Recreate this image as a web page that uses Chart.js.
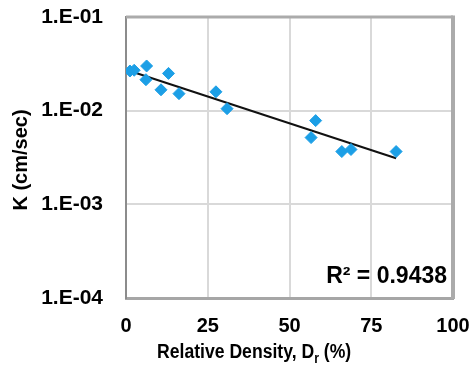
<!DOCTYPE html>
<html>
<head>
    <title>K vs relative density</title>
    <script src="https://cdn.jsdelivr.net/npm/chart.js@4.4.0/dist/chart.umd.min.js"></script>
    <style>
    body { margin: 0; background: #fff; }
    #box { width: 470px; height: 370px; }
    </style>
</head>
<body>
  <div id="box"><canvas id="myCanvas" width="470" height="370"></canvas></div>
  <script>
  // relative density (%) and permeability K (cm/sec)
  var densityRel = [1.2, 2.5, 6.3, 6.1, 10.7, 13, 16.2, 27.5, 30.9, 56.6, 58, 66, 68.8, 82.6];
  var kValues = [0.0265, 0.027, 0.030, 0.0214, 0.0167, 0.025, 0.0152, 0.0159, 0.0105, 0.00516, 0.00783, 0.00366, 0.00385, 0.00366];

  // exponential trendline end points
  var trendX = [1.2, 82.6];
  var trendK = [0.0265, 0.0031];

  var yTicks = [0.1, 0.01, 0.001, 0.0001];
  var xTicks = [0, 25, 50, 75, 100];
  var rSquared = '0.9438';

  var FONT = '"Liberation Sans", Arial, sans-serif';

  var pts = densityRel.map(function(d, i) { return {x: d, y: kValues[i]}; });
  var trend = trendX.map(function(d, i) { return {x: d, y: trendK[i]}; });

  // grey frame on top and right of the plot area
  var plotFrame = {
    id: 'plotFrame',
    beforeDatasetsDraw: function(chart) {
      var ctx = chart.ctx, a = chart.chartArea;
      ctx.save();
      ctx.strokeStyle = '#ababab';
      ctx.lineWidth = 3;
      ctx.beginPath();
      ctx.moveTo(a.left, a.top);
      ctx.lineTo(a.right, a.top);
      ctx.stroke();
      ctx.lineWidth = 4;
      ctx.beginPath();
      ctx.moveTo(a.right, a.top - 1.5);
      ctx.lineTo(a.right, a.bottom + 1);
      ctx.stroke();
      ctx.restore();
    }
  };

  var extraText = {
    id: 'extraText',
    afterDraw: function(chart) {
      var ctx = chart.ctx;
      ctx.save();
      ctx.fillStyle = '#000';
      // y title
      ctx.save();
      ctx.font = 'bold 20px ' + FONT;
      ctx.translate(21, 160);
      ctx.rotate(-Math.PI / 2);
      ctx.textAlign = 'center';
      ctx.textBaseline = 'middle';
      ctx.fillText('K (cm/sec)', 0, 0);
      ctx.restore();
      // x title with subscript, squeezed a little
      var p1 = 'Relative Density, D', sub = 'r', p2 = ' (%)';
      ctx.font = 'bold 20px ' + FONT;
      var w1 = ctx.measureText(p1).width;
      ctx.font = 'bold 14px ' + FONT;
      var w2 = ctx.measureText(sub).width;
      ctx.save();
      ctx.translate(157, 358);
      ctx.scale(0.88, 1);
      ctx.textBaseline = 'alphabetic';
      ctx.textAlign = 'left';
      ctx.font = 'bold 20px ' + FONT;
      ctx.fillText(p1, 0, 0);
      ctx.font = 'bold 14px ' + FONT;
      ctx.fillText(sub, w1, 5);
      ctx.font = 'bold 20px ' + FONT;
      ctx.fillText(p2, w1 + w2, 0);
      ctx.restore();
      // R squared
      ctx.font = 'bold 23px ' + FONT;
      ctx.textAlign = 'right';
      ctx.textBaseline = 'alphabetic';
      ctx.fillText('R\u00B2 = ' + rSquared, 447, 283);
      ctx.restore();
    }
  };

  new Chart(document.getElementById('myCanvas'), {
    type: 'scatter',
    data: {
      datasets: [{
        label: 'Data',
        data: pts,
        pointStyle: 'rectRot',
        pointRadius: 6,
        backgroundColor: '#1c9fe6',
        borderColor: '#1c9fe6',
        borderWidth: 1,
        order: 1
      }, {
        label: 'Trend',
        type: 'line',
        data: trend,
        borderColor: '#111',
        borderWidth: 2,
        pointRadius: 0,
        showLine: true,
        fill: false,
        order: 2
      }]
    },
    options: {
      responsive: false,
      animation: false,
      layout: { padding: { left: 0, right: 17, top: 17, bottom: 0 } },
      plugins: { legend: { display: false }, tooltip: { enabled: false } },
      scales: {
        x: {
          type: 'linear',
          min: 0, max: 100,
          afterBuildTicks: function(s) { s.ticks = xTicks.map(function(v) { return {value: v}; }); },
          afterFit: function(s) { s.height = 72; s.paddingLeft = 0; s.paddingRight = 0; },
          grid: { color: '#d9d9d9', lineWidth: 2, drawTicks: false },
          border: { color: '#a6a6a6', width: 3 },
          ticks: { padding: 16, color: '#000', font: { family: FONT, size: 20, weight: 'bold' } }
        },
        y: {
          type: 'logarithmic',
          min: 0.0001, max: 0.1,
          afterBuildTicks: function(s) { s.ticks = yTicks.map(function(v) { return {value: v}; }); },
          afterFit: function(s) { s.width = 126; s.paddingTop = 0; s.paddingBottom = 0; },
          grid: { color: '#d9d9d9', lineWidth: 2, drawTicks: false },
          border: { color: '#8c8c8c', width: 2 },
          ticks: {
            padding: 23, color: '#000',
            font: { family: FONT, size: 21, weight: 'bold' },
            callback: function(v) { return '1.E-0' + Math.round(-Math.log10(v)); }
          }
        }
      }
    },
    plugins: [plotFrame, extraText]
  });
  </script>
</body>
</html>
